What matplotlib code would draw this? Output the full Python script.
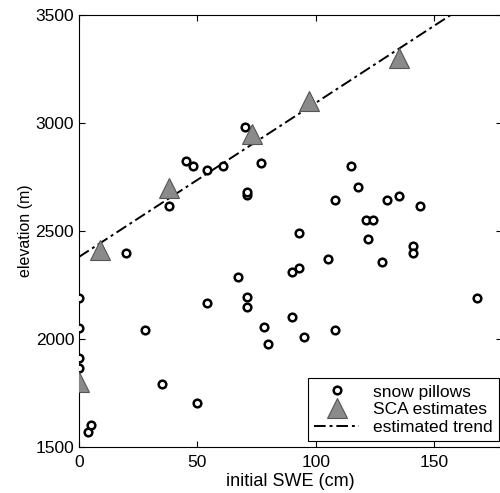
import matplotlib.pyplot as plt
import numpy as np

plt.rcParams['font.family'] = ['Liberation Sans', 'DejaVu Sans']

# snow pillow stations: initial SWE (cm) and elevation (m)
pillow_swe = [0, 0, 0, 0, 4, 5, 20, 28, 35, 38, 45, 48, 50, 54, 54, 61,
              67, 70, 71, 71, 71, 71, 77, 78, 80, 90, 90, 93, 93, 95,
              105, 108, 108, 115, 118, 121, 122, 124, 128, 130, 135,
              141, 141, 144, 168]
pillow_elev = [2190, 2052, 1912, 1868, 1571, 1602, 2400, 2040, 1792, 2615,
               2825, 2800, 1702, 2780, 2165, 2800, 2285, 2980, 2195, 2150,
               2665, 2680, 2815, 2057, 1977, 2100, 2312, 2327, 2490, 2008,
               2370, 2042, 2645, 2800, 2705, 2550, 2462, 2550, 2355, 2645,
               2660, 2430, 2400, 2615, 2190]

# SCA based estimates
sca_swe = [0, 9, 38, 73, 97, 135]
sca_elev = [1800, 2410, 2700, 2950, 3100, 3300]

# estimated trend line (intercept, slope)
trend_b0 = 2380
trend_b1 = 7.13

fig = plt.figure(figsize=(5.0, 4.93), dpi=100)
# right edge a little past the figure, the right spine is cut off
ax = fig.add_axes([0.158, 0.093, 0.846, 0.877])

tx = np.array([0, 180])
ax.plot(tx, trend_b0 + trend_b1 * tx, color='black', ls='-.', lw=1.4,
        dashes=(6, 2, 1.5, 2), label='estimated trend', zorder=2)
ax.plot(pillow_swe, pillow_elev, 'o', ms=5.5, mfc='white', mec='black',
        mew=1.8, label='snow pillows', zorder=3)
ax.plot(sca_swe, sca_elev, '^', ms=15, mfc='#8a8a8a', mec='#555555',
        mew=0.8, label='SCA estimates', zorder=4)

ax.set_xlim(0, 178.6)
ax.set_ylim(1500, 3500)
ax.set_xticks([0, 50, 100, 150])
ax.set_yticks([1500, 2000, 2500, 3000, 3500])
ax.tick_params(direction='in', top=True, right=True, labelsize=12.5,
               length=4)
ax.tick_params(axis='x', pad=6)
ax.set_xlabel('initial SWE (cm)', fontsize=13, labelpad=2)
ax.set_ylabel('elevation (m)', fontsize=11.5, labelpad=2)

h, l = ax.get_legend_handles_labels()
order = [1, 2, 0]
leg = ax.legend([h[i] for i in order], [l[i] for i in order],
                loc='lower right', fontsize=12.5, fancybox=False,
                edgecolor='black', framealpha=1,
                bbox_to_anchor=(0.993, 0.014), borderaxespad=0,
                handlelength=2.6, labelspacing=0.15, borderpad=0.35,
                handletextpad=0.8)
leg.get_frame().set_linewidth(0.8)

fig.savefig('out.png', dpi=100)
